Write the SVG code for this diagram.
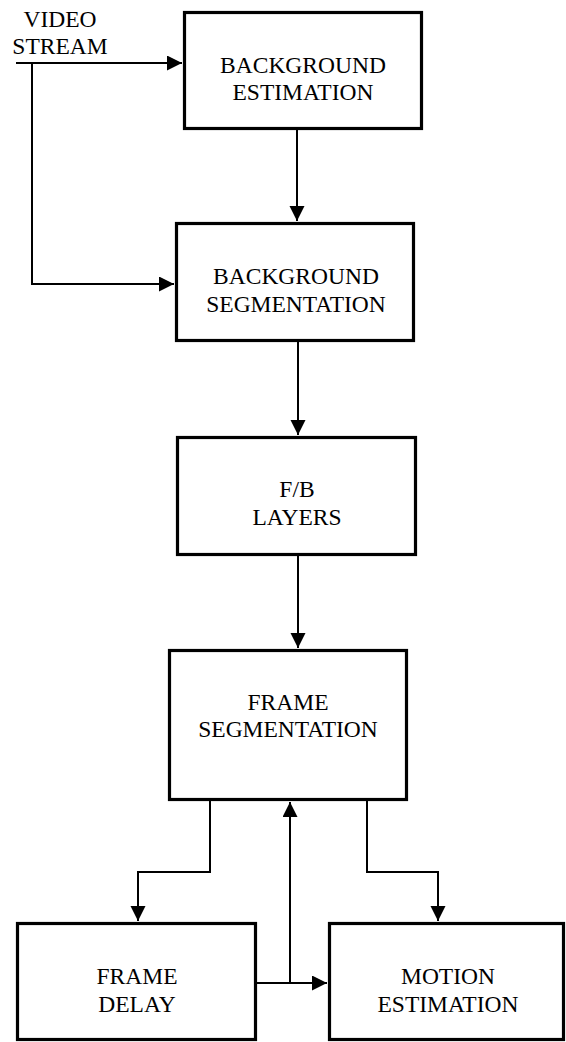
<svg xmlns="http://www.w3.org/2000/svg" width="566" height="1042" viewBox="0 0 566 1042">
<style>
.box{fill:#fff;stroke:#000;stroke-width:3.2}
.lbl{font-family:"Liberation Serif","Times New Roman",serif;font-size:23.5px;fill:#000;text-anchor:middle}
.ln{fill:none;stroke:#000;stroke-width:2}
</style>
<defs>
<marker id="ah" markerUnits="userSpaceOnUse" markerWidth="16" markerHeight="16" refX="15" refY="7.5" orient="auto">
<path d="M0,0 L15,7.5 L0,15 z" fill="#000"/>
</marker>
</defs>
<rect width="566" height="1042" fill="#fff"/>
<g id="connectors">
<polyline class="ln" points="16,63 182,63" marker-end="url(#ah)"/>
<polyline class="ln" points="32,63 32,284 174,284" marker-end="url(#ah)"/>
<polyline class="ln" points="297,130 297,221" marker-end="url(#ah)"/>
<polyline class="ln" points="298,342 298,435" marker-end="url(#ah)"/>
<polyline class="ln" points="298,556 298,648" marker-end="url(#ah)"/>
<polyline class="ln" points="210,801 210,872 138,872 138,921" marker-end="url(#ah)"/>
<polyline class="ln" points="367,801 367,872 438,872 438,921" marker-end="url(#ah)"/>
<polyline class="ln" points="257,983 327,983" marker-end="url(#ah)"/>
<polyline class="ln" points="290,983 290,802" marker-end="url(#ah)"/>
</g>
<g id="input">
<text class="lbl" x="60" y="27">VIDEO</text>
<text class="lbl" x="60" y="54">STREAM</text>
</g>
<g id="bg-estimation">
<rect class="box" x="184.5" y="12.5" width="237" height="116"/>
<text class="lbl" x="303" y="73">BACKGROUND</text>
<text class="lbl" x="303" y="100">ESTIMATION</text>
</g>
<g id="bg-segmentation">
<rect class="box" x="176.5" y="223.5" width="237" height="117"/>
<text class="lbl" x="296" y="284">BACKGROUND</text>
<text class="lbl" x="296" y="312">SEGMENTATION</text>
</g>
<g id="fb-layers">
<rect class="box" x="177.5" y="437.5" width="238" height="117"/>
<text class="lbl" x="297" y="497">F/B</text>
<text class="lbl" x="297" y="525">LAYERS</text>
</g>
<g id="frame-segmentation">
<rect class="box" x="169.5" y="650.5" width="237" height="149"/>
<text class="lbl" x="288" y="710">FRAME</text>
<text class="lbl" x="288" y="737">SEGMENTATION</text>
</g>
<g id="frame-delay">
<rect class="box" x="17.5" y="923.5" width="238" height="116"/>
<text class="lbl" x="137" y="984">FRAME</text>
<text class="lbl" x="137" y="1012">DELAY</text>
</g>
<g id="motion-estimation">
<rect class="box" x="329.5" y="923.5" width="234" height="116"/>
<text class="lbl" x="448" y="984">MOTION</text>
<text class="lbl" x="448" y="1012">ESTIMATION</text>
</g>
</svg>
